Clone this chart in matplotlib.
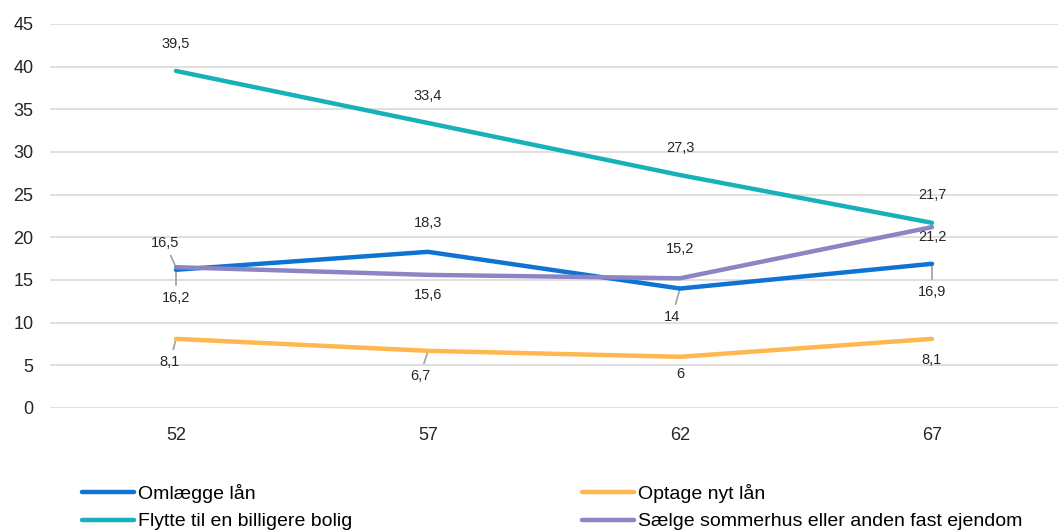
import matplotlib
matplotlib.use("Agg")
import matplotlib.pyplot as plt
import numpy as np

plt.rcParams['font.family'] = ['Liberation Sans', 'DejaVu Sans']

categories = ["52", "57", "62", "67"]
omlaegge = [16.2, 18.3, 14, 16.9]
optage = [8.1, 6.7, 6, 8.1]
flytte = [39.5, 33.4, 27.3, 21.7]
saelge = [16.5, 15.6, 15.2, 21.2]

names = ["Omlægge lån", "Optage nyt lån",
         "Flytte til en billigere bolig",
         "Sælge sommerhus eller anden fast ejendom"]
colors = ["#0f73d3", "#ffb74f", "#17b1b9", "#8c84c3"]

# label offsets in pixels (dx, dy up) and whether a leader line is drawn
offs = {
    0: [(0, -28, True), (0, 29, False), (-8, -28, True), (0, -28, True)],
    1: [(-6, -23, True), (-8, -25, True), (0, -17, False), (0, -21, False)],
    2: [(0, 27, False), (0, 27, False), (0, 27, False), (0, 28, False)],
    3: [(-11, 24, True), (0, -20, False), (0, 29, False), (0, -10, False)],
}

fig = plt.figure(figsize=(10.59, 5.31), dpi=100)
ax = fig.add_axes([50 / 1059, 123 / 531, 1008 / 1059, 384 / 531])

x = np.arange(len(categories))
series = [omlaegge, optage, flytte, saelge]
order = [2, 1, 0, 3]
handles = {}
for i in order:
    ln, = ax.plot(x, series[i], color=colors[i], lw=3.2, label=names[i],
                  solid_capstyle='round', zorder=3)
    handles[i] = ln

px = 72 / 100  # pixels -> points
for i, vals in enumerate(series):
    for j, v in enumerate(vals):
        dx, dy, lead = offs[i][j]
        txt = f"{v:g}".replace(".", ",")
        arrow = None
        if lead:
            arrow = dict(arrowstyle='-', color='#a6a6a6', lw=1.3,
                         shrinkA=2, shrinkB=0)
        ax.annotate(txt, (j, v), xytext=(dx * px, dy * px),
                    textcoords='offset points', ha='center', va='center',
                    fontsize=10.5, color='#262626', arrowprops=arrow,
                    zorder=2)

ax.set_xlim(-0.5, 3.5)
ax.set_ylim(0, 45)
ax.set_yticks(range(0, 46, 5))
ax.set_xticks(x)
ax.set_xticklabels(categories)
ax.grid(axis='y', color='#d9d9d9', lw=1.2)
ax.set_axisbelow(True)
for s in ax.spines.values():
    s.set_visible(False)
ax.tick_params(length=0, labelsize=13, colors='#262626')
ax.tick_params(axis='x', pad=14)
ax.tick_params(axis='y', pad=12)

leg = fig.legend([handles[0], handles[2], handles[1], handles[3]],
                 [names[0], names[2], names[1], names[3]],
                 loc='lower left', bbox_to_anchor=(64 / 1059, -0.032),
                 ncol=2, frameon=False, handlelength=2.7,
                 handletextpad=0.2, columnspacing=11.8, labelspacing=0.5,
                 prop={'size': 14})

fig.savefig("out.png", dpi=100)
